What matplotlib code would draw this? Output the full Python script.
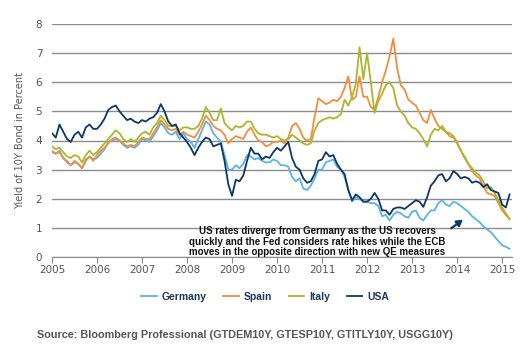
import numpy as np
import matplotlib
matplotlib.use("Agg")
import matplotlib.pyplot as plt

# Monthly 10Y yields, Jan 2005 .. Mar 2015
germany = [
    3.60, 3.55, 3.65, 3.40, 3.30, 3.15, 3.25, 3.20, 3.05, 3.30, 3.45, 3.35,  # 2005
    3.40, 3.55, 3.70, 3.95, 4.00, 4.05, 4.00, 3.85, 3.75, 3.80, 3.75, 3.85,  # 2006
    4.05, 4.00, 3.95, 4.15, 4.35, 4.60, 4.45, 4.25, 4.20, 4.30, 4.05, 4.25,  # 2007
    4.05, 3.95, 3.75, 4.05, 4.35, 4.65, 4.55, 4.25, 4.10, 3.95, 3.50, 3.00,  # 2008
    3.00, 3.15, 3.05, 3.20, 3.50, 3.45, 3.35, 3.40, 3.30, 3.25, 3.25, 3.35,  # 2009
    3.30, 3.15, 3.15, 3.10, 2.75, 2.60, 2.70, 2.35, 2.30, 2.45, 2.70, 3.00,  # 2010
    3.00, 3.25, 3.30, 3.35, 3.10, 3.00, 2.75, 2.30, 1.90, 2.05, 2.00, 1.90,  # 2011
    1.90, 1.85, 1.85, 1.75, 1.40, 1.45, 1.25, 1.45, 1.55, 1.50, 1.40, 1.35,  # 2012
    1.55, 1.60, 1.35, 1.25, 1.45, 1.60, 1.60, 1.85, 1.95, 1.80, 1.75, 1.90,  # 2013
    1.85, 1.75, 1.65, 1.55, 1.40, 1.30, 1.20, 1.05, 0.95, 0.85, 0.70, 0.55,  # 2014
    0.40, 0.35, 0.28,                                                        # 2015
]
spain = [
    3.65, 3.55, 3.60, 3.40, 3.25, 3.15, 3.30, 3.20, 3.05, 3.35, 3.45, 3.30,
    3.50, 3.65, 3.75, 3.90, 4.05, 4.10, 4.00, 3.90, 3.80, 3.85, 3.80, 3.95,
    4.10, 4.05, 4.05, 4.25, 4.45, 4.70, 4.55, 4.40, 4.35, 4.40, 4.20, 4.30,
    4.20, 4.15, 4.10, 4.30, 4.55, 4.85, 4.70, 4.50, 4.40, 4.35, 4.20, 3.90,
    4.05, 4.15, 4.10, 4.05, 4.30, 4.45, 4.20, 4.00, 3.95, 3.80, 3.85, 3.95,
    3.95, 4.00, 3.90, 4.10, 4.50, 4.60, 4.40, 4.10, 4.00, 4.05, 4.80, 5.45,
    5.35, 5.25, 5.30, 5.40, 5.35, 5.50, 5.80, 6.20, 5.40, 5.50, 6.20, 5.50,
    5.50, 5.15, 5.05, 5.50, 6.00, 6.40, 6.90, 7.50, 6.50, 5.90, 5.75, 5.40,
    5.30, 5.20, 4.95, 4.70, 4.60, 5.05, 4.75, 4.50, 4.40, 4.30, 4.25, 4.15,
    3.95, 3.65, 3.40, 3.20, 2.95, 2.80, 2.70, 2.45, 2.20, 2.15, 2.10, 1.85,
    1.60, 1.45, 1.30,
]
italy = [
    3.80, 3.70, 3.75, 3.60, 3.45, 3.40, 3.50, 3.45, 3.25, 3.50, 3.65, 3.50,
    3.60, 3.75, 3.90, 4.05, 4.20, 4.35, 4.25, 4.05, 3.95, 4.05, 3.95, 4.10,
    4.25, 4.30, 4.20, 4.45, 4.60, 4.85, 4.70, 4.50, 4.50, 4.50, 4.35, 4.45,
    4.45, 4.40, 4.40, 4.50, 4.75, 5.15, 4.95, 4.70, 4.70, 5.10, 4.60, 4.45,
    4.35, 4.50, 4.45, 4.50, 4.65, 4.65, 4.40, 4.25, 4.20, 4.20, 4.15, 4.10,
    4.15, 4.05, 4.00, 4.05, 4.20, 4.10, 4.00, 3.90, 3.85, 3.90, 4.35, 4.60,
    4.70, 4.75, 4.80, 4.75, 4.80, 4.90, 5.40, 5.20, 5.50, 5.95, 7.20, 6.10,
    7.00, 6.00, 4.95, 5.35, 5.60, 5.90, 6.00, 5.80, 5.20, 5.00, 4.85, 4.60,
    4.45, 4.40, 4.25, 4.05, 3.80, 4.20, 4.40, 4.35, 4.50, 4.30, 4.15, 4.10,
    3.90, 3.65, 3.45, 3.20, 3.05, 2.90, 2.80, 2.60, 2.35, 2.40, 2.20, 1.95,
    1.70, 1.50, 1.30,
]
usa = [
    4.25, 4.10, 4.55, 4.30, 4.05, 3.95, 4.20, 4.30, 4.10, 4.45, 4.55, 4.40,
    4.40, 4.55, 4.75, 5.05, 5.15, 5.20, 5.00, 4.85, 4.70, 4.75, 4.65, 4.60,
    4.70, 4.65, 4.75, 4.80, 4.95, 5.25, 5.00, 4.65, 4.50, 4.55, 4.25, 4.10,
    3.95, 3.75, 3.50, 3.75, 3.95, 4.10, 4.05, 3.80, 3.85, 3.90, 3.30, 2.50,
    2.10, 2.65, 2.60, 2.80, 3.30, 3.75, 3.55, 3.55, 3.35, 3.45, 3.40, 3.60,
    3.75, 3.65, 3.80, 3.95, 3.40, 3.10, 3.00, 2.70, 2.55, 2.60, 2.85, 3.30,
    3.35, 3.60, 3.45, 3.50, 3.20, 3.00, 2.85, 2.30, 1.95, 2.15, 2.05, 1.90,
    1.90, 2.00, 2.20, 2.00, 1.60, 1.60, 1.45, 1.65, 1.70, 1.70, 1.65, 1.75,
    1.85, 1.95, 1.90, 1.72, 2.05, 2.45, 2.60, 2.80, 2.85, 2.60, 2.70, 2.95,
    2.85, 2.70, 2.75, 2.70, 2.55, 2.60, 2.55, 2.40, 2.50, 2.30, 2.25, 2.20,
    1.80, 1.70, 2.15,
]

seriesNames = ["Germany", "Spain", "Italy", "USA"]
seriesColors = ["#5ab4e5", "#f28e3c", "#a8b82a", "#0c3767"]
yearTicks = list(range(2005, 2016))
yTicks = list(range(0, 9))

months = np.arange(len(usa))
t = 2005 + months / 12.0

fig = plt.figure(figsize=(5.22, 3.54), dpi=100)
ax = fig.add_axes([52 / 522, 97 / 354, 460 / 522, 233 / 354])

for name, values, color in zip(seriesNames, [germany, spain, italy, usa], seriesColors):
    ax.plot(t, values, color=color, lw=1.3, label=name)

ax.set_xlim(2005, 2015.22)
ax.set_ylim(0, 8)
ax.set_yticks(yTicks)
ax.set_xticks(yearTicks)
ax.yaxis.grid(True, color="#8c8c8c", lw=1.0)
ax.set_axisbelow(True)
for side in ["left", "right", "top"]:
    ax.spines[side].set_visible(False)
ax.spines["bottom"].set_color("#8c8c8c")
ax.tick_params(axis="y", length=0, pad=7, labelsize=7.5, labelcolor="#555555")
ax.tick_params(axis="x", length=4, color="#8c8c8c", pad=2, labelsize=7.5, labelcolor="#555555")
ax.set_ylabel("Yield of 10Y Bond in Percent", fontsize=7, color="#555555", labelpad=8)

ax.text(2010.9, 0.52,
        "US rates diverge from Germany as the US recovers\n"
        "quickly and the Fed considers rate hikes while the ECB\n"
        "moves in the opposite direction with new QE measures",
        ha="center", va="center", fontsize=7, fontweight="bold", family="Liberation Sans",
        color="#111111", linespacing=1.05)
ax.annotate("", xy=(2014.18, 1.34), xytext=(2013.82, 0.93),
            arrowprops=dict(arrowstyle="-|>,head_length=0.35,head_width=0.2",
                            color="#0c3767", lw=1.6))

leg = fig.legend(loc="center", bbox_to_anchor=(0.508, 0.161), ncol=4, frameon=False,
                 handlelength=1.45, columnspacing=1.6, handletextpad=0.5,
                 prop={"family": "Liberation Sans", "weight": "bold", "size": 7.5})
for txt in leg.get_texts():
    txt.set_color("#1b365d")

fig.text(37 / 522, 1 - 335 / 354,
         "Source: Bloomberg Professional (GTDEM10Y, GTESP10Y, GTITLY10Y, USGG10Y)",
         ha="left", va="center", fontsize=7.8, fontweight="bold",
         family="Liberation Sans", color="#555555")

fig.savefig("out.png", dpi=100)
